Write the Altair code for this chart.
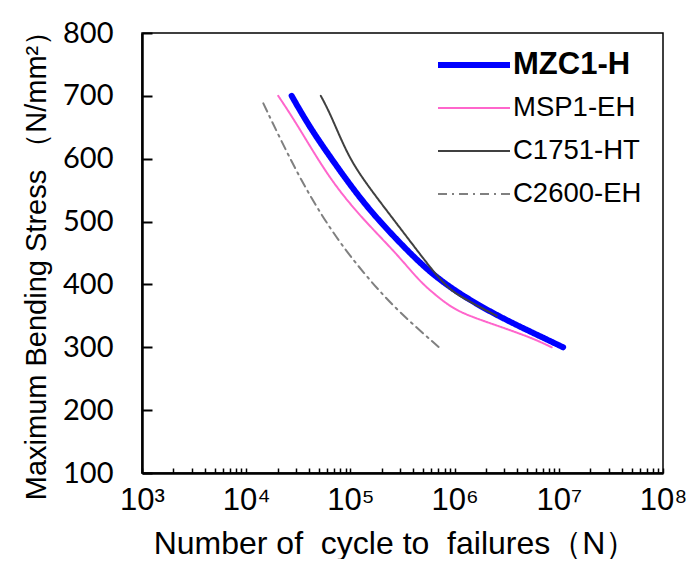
import altair as alt
import pandas as pd

# ---- data ----
series_names = ["MZC1-H", "MSP1-EH", "C1751-HT", "C2600-EH"]
series_colors = ["#0000FF", "#FF66CC", "#404040", "#808080"]
series_widths = [6, 2, 2, 2]
series_dashes = [[1, 0], [1, 0], [1, 0], [9, 5, 2, 5]]

mzc1_n = [2.73e4, 4.0e4, 6.37e4, 1.33e5, 2.78e5, 5.81e5, 1.21e6, 2.73e6, 5.65e6, 1.10e7]
mzc1_s = [700, 652, 603, 529, 471, 418, 381, 348, 323, 300]

msp1_n = [2.03e4, 3.05e4, 6.37e4, 1.33e5, 2.78e5, 4.5e5, 6.25e5, 9.0e5, 1.31e6, 2.73e6, 5.69e6, 8.55e6]
msp1_s = [700, 656, 566, 503, 449, 407, 386, 365, 351, 333, 314, 300]

c1751_n = [5.2e4, 6.4e4, 9.2e4, 1.33e5, 2.78e5, 6.25e5, 9.0e5, 1.31e6, 2.53e6]
c1751_s = [700, 672, 609, 566, 497, 420, 391, 375, 350]

c2600_n = [1.46e4, 3.05e4, 6.37e4, 1.33e5, 2.78e5, 7.08e5]
c2600_s = [688, 577, 487, 418, 359, 300]

x_tick_values = [m * 10 ** k for k in range(3, 8) for m in range(1, 10)] + [10 ** 8]
x_major_labels = {10 ** 3: "10³", 10 ** 4: "10⁴", 10 ** 5: "10⁵",
                  10 ** 6: "10⁶", 10 ** 7: "10⁷", 10 ** 8: "10⁸"}
y_tick_values = [100, 200, 300, 400, 500, 600, 700, 800]

NB = "\u00a0"
x_title = f"Number of {NB}cycle to {NB}failures（N）"
y_title = "Maximum Bending Stress （N/mm²）"

# ---- build table ----
rows = []
for name, ns, ss in [("MZC1-H", mzc1_n, mzc1_s), ("MSP1-EH", msp1_n, msp1_s),
                     ("C1751-HT", c1751_n, c1751_s), ("C2600-EH", c2600_n, c2600_s)]:
    for i, (n, s) in enumerate(zip(ns, ss)):
        rows.append({"series": name, "N": n, "stress": s, "idx": i})
df = pd.DataFrame(rows)

label_expr = " : ".join(
    f"datum.value == {v} ? '{t}'" for v, t in x_major_labels.items()
) + " : ''"

legend = alt.Legend(
    title=None, orient="none", legendX=293, legendY=10.5,
    symbolType="stroke", symbolSize=5184, clipHeight=43, rowPadding=0,
    labelOffset=0, padding=0, labelLimit=0, labelColor="black",
    labelFont="Liberation Sans",
    labelFontSize={"expr": "datum.label == 'MZC1-H' ? 31 : 27.5"},
    labelFontWeight={"expr": "datum.label == 'MZC1-H' ? 'bold' : 'normal'"},
    symbolOpacity=1,
)

base = alt.Chart(df).mark_line(interpolate="basis", strokeCap="round", strokeJoin="round").encode(
    x=alt.X("N:Q", scale=alt.Scale(type="log", domain=[1e3, 1e8], nice=False),
            axis=alt.Axis(values=x_tick_values, labelExpr=label_expr, title=x_title,
                          grid=False, tickSize={"expr": "-5"}, tickWidth=1.5, tickColor="black",
                          labelPadding=17, labelFont="Liberation Sans", labelFontSize=31,
                          labelColor="black", labelFlush=False, labelOverlap=False,
                          titleFont="Liberation Sans", titleFontSize=32, titleFontWeight="normal",
                          titleColor="black", titleX=253, titleY=80, titleBaseline="alphabetic",
                          titleAlign="center")),
    y=alt.Y("stress:Q", scale=alt.Scale(domain=[100, 800], nice=False),
            axis=alt.Axis(values=y_tick_values, title=y_title, grid=False,
                          tickSize={"expr": "-10"}, tickWidth=2, tickColor="black",
                          labelPadding=39, labelFont="Lato", labelFontSize=29,
                          labelColor="black", labelFlush=False,
                          titleFont="Liberation Sans", titleFontSize=29, titleFontWeight="normal",
                          titleColor="black", titleX=-97, titleY=225, titleBaseline="alphabetic",
                          titleAlign="center")),
    color=alt.Color("series:N", scale=alt.Scale(domain=series_names, range=series_colors), legend=legend),
    strokeWidth=alt.StrokeWidth("series:N", scale=alt.Scale(type="ordinal", domain=series_names, range=series_widths), legend=legend),
    strokeDash=alt.StrokeDash("series:N", scale=alt.Scale(domain=series_names, range=series_dashes), legend=legend),
    order="idx:Q",
)

draw_order = ["MSP1-EH", "C2600-EH", "MZC1-H", "C1751-HT"]
layers = [base.transform_filter(alt.datum.series == s) for s in draw_order]

chart = alt.layer(*layers).properties(
    width=521, height=440,
    autosize=alt.AutoSizeParams(type="none"),
    padding={"left": 134, "top": 25, "right": 27, "bottom": 86},
).configure_view(
    stroke="black", strokeWidth=1.5
).configure_axis(
    domainColor="black", domainWidth=2.5
)

chart.save("out.html", embed_options={"renderer": "svg", "actions": False})
